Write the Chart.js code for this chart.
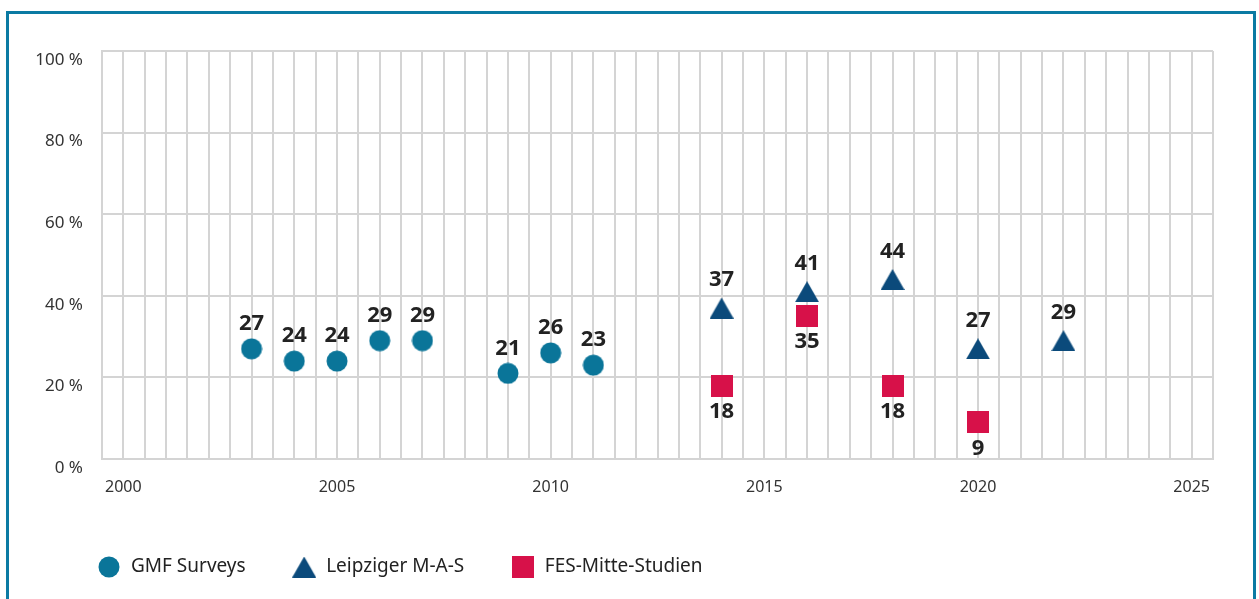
<!DOCTYPE html>
<html>
<head>
<meta charset="utf-8">
<script src="https://cdn.jsdelivr.net/npm/chart.js@4.4.0/dist/chart.umd.min.js"></script>
<style>
  html, body { margin: 0; padding: 0; background: #fff; overflow: hidden; }
  #frame { position: absolute; left: 6px; top: 11px; width: 1250px; height: 700px; border: 3px solid #0b7aa3; box-sizing: border-box; }
  #wrap { position: absolute; left: 0; top: 0; width: 1259px; height: 599px; }
</style>
</head>
<body>
<div id="frame"></div>
<div id="wrap"><canvas id="chart" width="1259" height="599"></canvas></div>
<script>
// data
const gmfYears = [2003, 2004, 2005, 2006, 2007, 2009, 2010, 2011];
const gmfValues = [27, 24, 24, 29, 29, 21, 26, 23];
const lmasYears = [2014, 2016, 2018, 2020, 2022];
const lmasValues = [37, 41, 44, 27, 29];
const fesYears = [2014, 2016, 2018, 2020];
const fesValues = [18, 35, 18, 9];
const xTickLabels = [2000, 2005, 2010, 2015, 2020, 2025];
const yTickValues = [0, 20, 40, 60, 80, 100];

const gridColor = '#d4d4d4';

// marker images (used in plot and legend)
function marker(kind, color) {
    var c = document.createElement('canvas');
    if (kind === 'circle') { c.width = 22; c.height = 22; }
    if (kind === 'triangle') { c.width = 24; c.height = 21; }
    if (kind === 'square') { c.width = 22; c.height = 22; }
    var ctx = c.getContext('2d');
    ctx.fillStyle = color;
    ctx.beginPath();
    if (kind === 'circle') ctx.arc(11, 11, 10.5, 0, Math.PI * 2);
    if (kind === 'triangle') { ctx.moveTo(12, 0); ctx.lineTo(24, 21); ctx.lineTo(0, 21); ctx.closePath(); }
    if (kind === 'square') ctx.rect(0, 0, 22, 22);
    ctx.fill();
    return c;
}

function points(xs, ys) {
    return xs.map((x, i) => ({x: x, y: ys[i]}));
}

// numbers above / below the markers
const valueLabels = {
    id: 'valueLabels',
    afterLayout(chart) {
        // legend starts under the plot, not under the y labels
        chart.legend.left += 18.5;
        chart.legend.right += 18.5;
    },
    afterDatasetsDraw(chart) {
        const ctx = chart.ctx;
        ctx.save();
        ctx.font = 'bold 22px "Noto Sans"';
        ctx.fillStyle = '#222';
        ctx.textAlign = 'center';
        ctx.textBaseline = 'middle';
        chart.data.datasets.forEach((ds, i) => {
            chart.getDatasetMeta(i).data.forEach((pt, j) => {
                ctx.fillText(String(ds.data[j].y), pt.x, pt.y + ds.labelShift);
            });
        });
        ctx.restore();
    }
};

var ctx = document.getElementById('chart').getContext('2d');
var myChart = new Chart(ctx, {
    type: 'scatter',
    data: {
        datasets: [{
            label: 'GMF Surveys',
            data: points(gmfYears, gmfValues),
            pointStyle: marker('circle', '#0a7599'),
            backgroundColor: '#0a7599',
            pointRadius: 11,
            labelShift: -25
        }, {
            label: 'Leipziger M-A-S',
            data: points(lmasYears, lmasValues),
            pointStyle: marker('triangle', '#0b4a7b'),
            backgroundColor: '#0b4a7b',
            pointRadius: 12,
            labelShift: -28
        }, {
            label: 'FES-Mitte-Studien',
            data: points(fesYears, fesValues),
            pointStyle: marker('square', '#d71149'),
            backgroundColor: '#d71149',
            pointRadius: 11,
            labelShift: 26
        }]
    },
    options: {
        responsive: false,
        animation: false,
        events: [],
        layout: { padding: { top: 51, left: 32, right: 46, bottom: 12.5 } },
        plugins: {
            tooltip: { enabled: false },
            legend: {
                position: 'bottom',
                align: 'start',
                labels: {
                    usePointStyle: true,
                    pointStyleWidth: 25,
                    padding: 46,
                    color: '#222',
                    font: { family: '"Noto Sans"', size: 19 }
                }
            }
        },
        scales: {
            x: {
                type: 'linear',
                min: 1999.5,
                max: 2025.5,
                ticks: {
                    stepSize: 0.5,
                    autoSkip: false,
                    maxRotation: 0,
                    padding: 19,
                    color: '#333',
                    font: { family: '"Noto Sans"', size: 16 },
                    callback: v => xTickLabels.includes(v) ? String(v) : ''
                },
                grid: { color: gridColor, lineWidth: 2, drawTicks: false },
                border: { color: gridColor, width: 2 },
                afterFit: s => { s.height = 52.5; }
            },
            y: {
                min: 0,
                max: 100,
                afterBuildTicks: s => { s.ticks = yTickValues.map(v => ({value: v})); },
                ticks: {
                    padding: 19,
                    labelOffset: 9,
                    color: '#333',
                    font: { family: '"Noto Sans"', size: 17 },
                    callback: v => v + ' %'
                },
                grid: { color: gridColor, lineWidth: 2, drawTicks: false },
                border: { color: gridColor, width: 2 },
                afterFit: s => { s.width = 70; }
            }
        }
    },
    plugins: [valueLabels]
});
</script>
</body>
</html>
